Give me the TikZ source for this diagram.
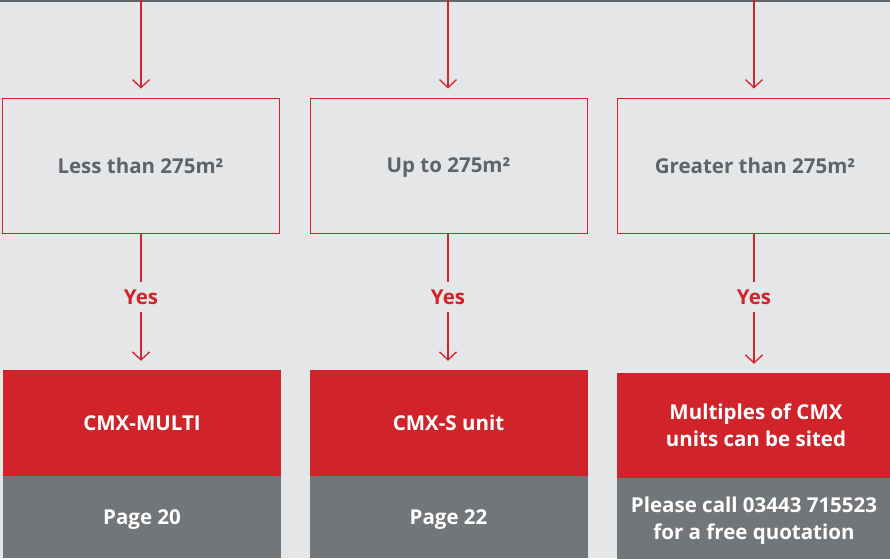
\documentclass[tikz,border=0pt]{standalone}
\usepackage{fontspec}
\setmainfont{Open Sans}
\usetikzlibrary{arrows.meta}
\definecolor{bgc}{HTML}{E5E6E8}
\definecolor{redc}{HTML}{D1232A}
\definecolor{grayc}{HTML}{737679}
\definecolor{txtc}{HTML}{5E6467}
\definecolor{linec}{HTML}{5F6669}
\tikzset{
  qbox/.style={draw=redc, line width=1pt, minimum width=277pt, minimum height=135pt, inner sep=0pt, text depth=-3pt, text=txtc, font=\fontsize{20.5}{24}\selectfont\bfseries},
  redbox/.style={fill=redc, minimum width=278pt, minimum height=106pt, inner sep=0pt, text depth=-4pt, text=white, align=center, font=\fontsize{20.5}{27}\selectfont\bfseries},
  graybox/.style={fill=grayc, minimum width=278pt, minimum height=82pt, inner sep=0pt, text depth=-2pt, text=white, align=center, font=\fontsize{20.5}{27}\selectfont\bfseries},
  yeslab/.style={text=redc, inner sep=0pt, text depth=-4pt, minimum height=30pt, font=\fontsize{20.5}{24}\selectfont\bfseries},
  conn/.style={draw=redc, line width=1.3pt},
  arr/.style={conn, -{Straight Barb[length=8pt,width=17pt,line width=1.3pt]}, shorten >=9pt},
}
\begin{document}
\begin{tikzpicture}[x=1pt,y=-1pt]
\fill[bgc] (0,0) rectangle (890,558);
\useasboundingbox (0,0) rectangle (890,558);
\draw[linec, line width=1.5pt] (0,0.75) -- (890,0.75);
% columns
\coordinate (t1) at (141,0);
\coordinate (t2) at (448,0);
\coordinate (t3) at (754,0);
\node[qbox] (q1) at (140.5,165.5) {Less than 275m²};
\node[qbox] (q2) at (448.5,165.5) {Up to 275m²};
\node[qbox, minimum width=280pt] (q3) at (757,165.5) {\hspace*{-4pt}Greater than 275m²};
\node[yeslab] (y1) at (141,297) {Yes};
\node[yeslab] (y2) at (448,297) {Yes};
\node[yeslab] (y3) at (754,297) {Yes};
\node[redbox] (r1) at (142,423) {CMX-MULTI};
\node[redbox] (r2) at (448.5,423) {CMX-S unit};
\node[redbox, minimum height=105pt, text depth=-6pt] (r3) at (756,425.5) {Multiples of CMX\\units can be sited};
\node[graybox] (g1) at (142,517) {Page 20};
\node[graybox] (g2) at (448.5,517) {Page 22};
\node[graybox, minimum height=81pt] (g3) at (756,518.5) {\hspace*{-4pt}Please call 03443 715523\\\hspace*{-4pt}for a free quotation};
% connectors
\draw[arr] (t1) -- (t1 |- q1.north);
\draw[arr] (t2) -- (t2 |- q2.north);
\draw[arr] (t3) -- (t3 |- q3.north);
\draw[conn] (y1 |- q1.south) -- (y1.north);
\draw[conn] (y2 |- q2.south) -- (y2.north);
\draw[conn] (y3 |- q3.south) -- (y3.north);
\draw[arr] (y1.south) -- (y1 |- r1.north);
\draw[arr] (y2.south) -- (y2 |- r2.north);
\draw[arr] (y3.south) -- (y3 |- r3.north);
\end{tikzpicture}
\end{document}
